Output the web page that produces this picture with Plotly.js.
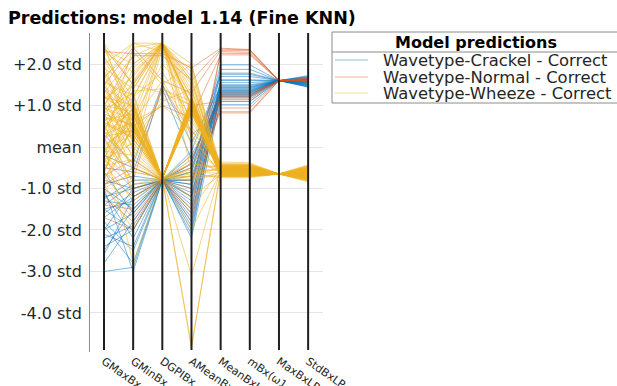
<!DOCTYPE html>
<html><head><meta charset="utf-8">
<script src="https://cdn.plot.ly/plotly-3.0.1.min.js"></script>
<style>html,body{margin:0;padding:0;background:#fff;}</style>
</head><body>
<div id="chart" style="width:617px;height:386px"></div>
<script>
// ---------- data (values in standard deviations from the mean) ----------
const categories = ['GMaxBx','GMinBx','DGPIBx','AMeanBx','MeanBxLP','mBx(\u03c91,\u03c92)','MaxBxLP','StdBxLP'];
const yTickValues = [-4, -3, -2, -1, 0, 1, 2];
const yTickLabels = ['-4.0 std','-3.0 std','-2.0 std','-1.0 std','mean','+1.0 std','+2.0 std'];
const classNames = ['Wavetype-Crackel - Correct','Wavetype-Normal - Correct','Wavetype-Wheeze - Correct'];
const legendTitle = 'Model predictions';
const chartTitle = 'Predictions: model 1.14 (Fine KNN)';

const crackelRows = [
  [-1.2, -1.0, -0.8, -0.6, 1.98, 1.98, 1.6, 1.72],
  [-1.5, -1.3, -0.8, -0.9, 1.87, 1.87, 1.6, 1.68],
  [-2.0, -1.6, -0.75, -1.2, 1.78, 1.78, 1.6, 1.65],
  [-0.9, -0.7, -0.8, -0.4, 1.70, 1.70, 1.6, 1.62],
  [-2.6, -1.2, -0.8, -1.5, 1.62, 1.62, 1.6, 1.58],
  [-3.0, -2.9, -0.78, -1.8, 1.55, 1.55, 1.6, 1.55],
  [-1.8, -2.5, -0.8, -0.8, 1.48, 1.48, 1.6, 1.52],
  [-1.4, -0.9, -0.82, -2.1, 1.42, 1.42, 1.6, 1.50],
  [-2.2, -1.9, -0.8, -1.0, 1.38, 1.38, 1.6, 1.47],
  [-1.0, -1.5, -0.76, -0.5, 1.35, 1.35, 1.6, 1.45],
  [-2.4, -2.0, -0.8, -1.3, 1.32, 1.32, 1.6, 1.55],
  [-1.6, -1.1, -0.8, -0.7, 1.28, 1.28, 1.6, 1.60],
  [-0.5, -0.6, 1.4, -0.3, 1.25, 1.25, 1.6, 1.63],
  [-1.9, -2.8, -0.8, -1.6, 1.22, 1.22, 1.6, 1.57],
  [-1.3, -1.4, -0.8, -1.1, 1.20, 1.20, 1.6, 1.53],
  [-2.8, -1.8, -0.78, -2.2, 1.15, 1.15, 1.6, 1.49],
  [-0.8, -1.0, -0.8, -0.2, 1.10, 1.10, 1.6, 1.66],
  [-1.1, -2.2, -0.8, -1.4, 1.02, 1.02, 1.6, 1.44],
  [0.3, -0.4, 1.5, 0.1, 1.45, 1.45, 1.6, 1.70],
  [-1.7, -1.2, -0.8, -0.9, 1.40, 1.40, 1.6, 1.56],
  [-2.1, -2.4, -0.79, -1.9, 1.30, 1.30, 1.6, 1.51],
  [-1.25, -0.8, -0.8, -0.6, 1.36, 1.36, 1.6, 1.61],
  [-0.6, -1.6, -0.8, -1.2, 1.44, 1.44, 1.6, 1.59],
  [-2.5, -1.5, -0.8, -0.4, 1.50, 1.50, 1.6, 1.64],
  [-1.0, -3.0, -0.8, -1.7, 1.60, 1.60, 1.6, 1.48],
  [-0.2, -0.5, -0.8, -0.1, 1.75, 1.75, 1.6, 1.69],
  [-1.5, -2.0, -0.8, -2.0, 1.33, 1.33, 1.6, 1.46],
  [-2.0, -1.0, -0.81, -0.8, 1.26, 1.26, 1.6, 1.54]
];

const normalRows = [
  [2.3, 2.25, 2.25, 1.9, 2.38, 2.35, 1.6, 1.62],
  [1.5, 2.4, 1.6, 1.3, 2.33, 2.32, 1.6, 1.65],
  [-0.6, -1.2, -0.8, -1.5, 2.30, 2.28, 1.6, 1.60],
  [-1.2, -1.8, -0.8, -1.0, 2.26, 2.25, 1.6, 1.58],
  [0.8, 0.5, 1.0, 0.7, 2.22, 2.22, 1.6, 1.64],
  [-1.7, -2.0, -0.8, -1.8, 1.25, 1.25, 1.6, 1.57],
  [-0.9, -0.5, -0.8, -0.5, 1.18, 1.18, 1.6, 1.63],
  [2.4, 1.5, 2.5, 1.0, 1.10, 1.10, 1.6, 1.66],
  [-0.3, -1.0, -0.8, -1.2, 0.94, 0.94, 1.6, 1.59],
  [-1.4, -1.5, -0.78, -0.8, 0.85, 0.85, 1.6, 1.61],
  [0.2, -0.8, 1.5, 0.3, 0.82, 0.82, 1.6, 1.60],
  [-1.0, -1.7, -0.8, -1.6, 1.22, 1.22, 1.6, 1.62],
  [1.0, 2.2, 2.2, 1.6, 2.36, 2.34, 1.6, 1.64],
  [-0.7, -0.3, -0.8, -0.3, 1.30, 1.30, 1.6, 1.61]
];

const wheezeRows = [
  [2.4, 0.8, -0.75, 1.0, -0.50, -0.50, -0.65, -0.55],
  [1.8, 0.5, -0.75, 1.1, -0.60, -0.60, -0.65, -0.70],
  [1.2, 1.0, -0.74, 0.9, -0.45, -0.45, -0.65, -0.50],
  [0.6, 0.3, -0.75, 1.0, -0.70, -0.70, -0.65, -0.80],
  [0.0, 0.6, -0.76, 1.2, -0.55, -0.55, -0.65, -0.60],
  [-0.4, 0.4, -0.75, 0.95, -0.65, -0.65, -0.65, -0.75],
  [0.9, 1.3, -0.75, 1.05, -0.40, -0.42, -0.65, -0.45],
  [1.5, 0.2, -0.75, 0.85, -0.58, -0.58, -0.65, -0.65],
  [0.3, 0.9, -0.75, 1.0, -0.62, -0.62, -0.65, -0.72],
  [-0.8, 0.5, -0.75, 1.1, -0.48, -0.48, -0.65, -0.52],
  [2.0, 2.5, 2.5, 1.8, -0.52, -0.52, -0.65, -0.58],
  [1.0, 2.0, 2.5, 1.4, -0.66, -0.66, -0.65, -0.78],
  [0.4, 1.6, 2.5, 0.5, -0.44, -0.44, -0.65, -0.48],
  [-0.3, 1.2, 2.45, 1.0, -0.72, -0.72, -0.65, -0.82],
  [1.4, 0.7, 2.5, 0.0, -0.56, -0.56, -0.65, -0.62],
  [2.3, 1.8, 2.5, 2.0, -0.60, -0.60, -0.65, -0.68],
  [0.7, -0.2, 2.4, 1.2, -0.50, -0.50, -0.65, -0.56],
  [-0.6, 0.9, 2.5, -0.6, -0.64, -0.64, -0.65, -0.74],
  [1.1, 0.0, -0.75, -0.6, -0.53, -0.53, -0.65, -0.57],
  [0.5, -0.5, -0.75, -0.7, -0.68, -0.68, -0.65, -0.77],
  [-0.2, -0.8, -0.75, -0.5, -0.46, -0.46, -0.65, -0.50],
  [1.6, 1.1, -0.76, -0.8, -0.61, -0.61, -0.65, -0.66],
  [0.8, 1.5, 1.3, 1.0, -0.57, -0.57, -0.65, -0.63],
  [-0.5, 0.6, 1.0, 0.4, -0.49, -0.49, -0.65, -0.54],
  [1.3, -0.3, 1.4, 1.1, -0.70, -0.70, -0.65, -0.79],
  [0.2, -1.0, -0.75, -4.85, -0.55, -0.55, -0.65, -0.60],
  [-0.9, -2.0, -0.75, -4.8, -0.60, -0.60, -0.65, -0.66],
  [0.6, 0.2, -0.75, -3.1, -0.52, -0.52, -0.65, -0.58],
  [2.5, 0.4, -0.75, 0.9, -0.42, -0.42, -0.65, -0.46],
  [1.9, 1.4, 2.5, 1.0, -0.63, -0.63, -0.65, -0.71],
  [-0.1, 0.8, -0.75, 1.0, -0.59, -0.59, -0.65, -0.67],
  [0.95, 0.45, -0.75, 1.15, -0.51, -0.51, -0.65, -0.55],
  [-0.7, -1.5, -0.75, -1.2, -0.67, -0.67, -0.65, -0.76],
  [0.1, -2.8, -0.75, -0.4, -0.54, -0.54, -0.65, -0.59],
  [1.7, 2.3, 1.5, 2.0, -0.47, -0.47, -0.65, -0.51],
  [-0.3, 0.1, 2.5, 1.3, -0.58, -0.58, -0.65, -0.64],
  [0.45, 1.1, -0.75, 0.8, -0.69, -0.69, -0.65, -0.81],
  [1.25, 0.65, -0.75, 1.05, -0.36, -0.38, -0.65, -0.43],
  [-0.45, -0.3, -0.75, -0.65, -0.74, -0.74, -0.65, -0.84],
  [0.75, 0.35, 2.5, 0.9, -0.62, -0.62, -0.65, -0.69],
  [2.2, 1.0, -0.75, 1.0, -0.56, -0.56, -0.65, -0.61],
  [-1.0, 0.55, -0.75, 1.1, -0.53, -0.53, -0.65, -0.59],
  [0.35, 1.9, 2.5, 1.6, -0.50, -0.50, -0.65, -0.53],
  [1.05, -0.6, -0.75, -0.2, -0.64, -0.64, -0.65, -0.73],
  [-0.15, 0.75, -0.75, 0.95, -0.57, -0.57, -0.65, -0.62],
  [0.55, 0.25, 1.2, 0.6, -0.45, -0.45, -0.65, -0.49],
  [1.45, 0.95, -0.75, 1.2, -0.66, -0.66, -0.65, -0.75],
  [-0.65, 1.4, 2.5, 0.2, -0.60, -0.60, -0.65, -0.67],
  [0.85, -1.2, -0.75, -1.5, -0.52, -0.52, -0.65, -0.57],
  [0.05, 0.5, -0.75, 1.0, -0.71, -0.71, -0.65, -0.80],
  [2.5, 1.5, 2.5, 1.0, -0.41, -0.41, -0.65, -0.47],
  [2.1, 0.9, -0.75, 1.0, -0.58, -0.58, -0.65, -0.63],
  [1.65, 2.5, 2.3, 1.9, -0.54, -0.54, -0.65, -0.60],
  [1.35, 0.5, -0.75, 0.95, -0.63, -0.63, -0.65, -0.70],
  [1.15, 1.7, 2.5, 1.5, -0.49, -0.49, -0.65, -0.53],
  [0.95, 0.65, -0.75, 1.0, -0.66, -0.66, -0.65, -0.74],
  [0.65, 0.8, -0.75, 1.05, -0.55, -0.55, -0.65, -0.61],
  [0.5, 1.2, 1.8, 0.7, -0.60, -0.60, -0.65, -0.68],
  [0.25, 0.4, -0.75, 1.0, -0.47, -0.47, -0.65, -0.52],
  [0.15, 0.95, -0.75, 1.1, -0.69, -0.69, -0.65, -0.78],
  [-0.05, 0.3, -0.75, 0.9, -0.52, -0.52, -0.65, -0.57],
  [-0.25, 0.7, 2.0, 1.2, -0.62, -0.62, -0.65, -0.71],
  [-0.55, 0.45, -0.75, 1.0, -0.57, -0.57, -0.65, -0.64],
  [-0.75, 0.2, -0.75, -0.7, -0.50, -0.50, -0.65, -0.55],
  [-1.0, -0.6, -0.75, 0.9, -0.65, -0.65, -0.65, -0.73],
  [1.85, 0.6, 1.6, 0.4, -0.44, -0.44, -0.65, -0.49],
  [2.35, 2.0, 2.5, 1.2, -0.59, -0.59, -0.65, -0.66],
  [1.55, 1.25, -0.75, 1.15, -0.53, -0.53, -0.65, -0.58],
  [0.85, 1.75, 2.5, 0.3, -0.67, -0.67, -0.65, -0.76],
  [0.4, -0.4, -0.75, -0.55, -0.56, -0.56, -0.65, -0.62],
  [0.7, 0.55, -0.75, 1.0, -0.61, -0.61, -0.65, -0.69],
  [1.0, 0.85, -0.75, 1.05, -0.48, -0.48, -0.65, -0.53],
  [0.2, 1.05, -0.75, 0.95, -0.64, -0.64, -0.65, -0.72],
  [-0.35, 0.6, -0.75, 1.1, -0.58, -0.58, -0.65, -0.65],
  [1.75, 0.3, -0.75, 0.85, -0.51, -0.51, -0.65, -0.56],
  [2.15, 1.2, 2.5, 1.6, -0.62, -0.62, -0.65, -0.70],
  [1.3, 2.2, 2.5, 0.8, -0.55, -0.55, -0.65, -0.60],
  [0.55, -0.9, -0.75, -0.75, -0.70, -0.70, -0.65, -0.79],
  [-0.2, 1.55, 2.5, 1.0, -0.46, -0.46, -0.65, -0.51],
  [0.9, 0.15, 1.1, 1.4, -0.57, -0.57, -0.65, -0.63],
  [1.2, 0.75, -0.75, 1.0, -0.66, -0.66, -0.65, -0.75],
  [0.3, 0.6, -0.75, 1.05, -0.53, -0.53, -0.65, -0.58],
  [-0.6, 1.0, -0.75, 0.9, -0.60, -0.60, -0.65, -0.67],
  [1.6, -0.1, -0.75, -0.4, -0.49, -0.49, -0.65, -0.54],
  [0.1, 2.4, 2.5, 1.7, -0.63, -0.63, -0.65, -0.71],
  [2.0, 0.1, -0.75, 1.1, -0.56, -0.56, -0.65, -0.61],
  [-0.4, -1.3, -0.75, -2.0, -0.59, -0.59, -0.65, -0.66],
  [0.6, 1.35, 1.4, 1.0, -0.52, -0.52, -0.65, -0.57],
  [1.4, 0.45, -0.75, 1.0, -0.68, -0.68, -0.65, -0.77],
  [-0.1, -0.2, -0.75, 0.8, -0.54, -0.54, -0.65, -0.60]
];

// ---------- styling ----------
const classRows = [crackelRows, normalRows, wheezeRows];
const classRGB = ['0,114,189', '217,83,25', '237,177,32'];
const classAlpha = [0.5, 0.45, 0.55];
const FONT = 'DejaVu Sans, Verdana, sans-serif';
const TXT = '#262626';

const W = 617, H = 386;
const M = {l: 90, r: 294, t: 33, b: 34};
const plotW = W - M.l - M.r, plotH = H - M.t - M.b;
const px = v => (v - M.l) / plotW;        // pixel x -> paper x
const py = v => (H - M.b - v) / plotH;    // pixel y -> paper y

const traces = [];
classRows.forEach((rows, ci) => {
  rows.forEach(row => {
    traces.push({
      type: 'scatter', mode: 'lines',
      x: categories, y: row,
      line: {color: 'rgba(' + classRGB[ci] + ',' + classAlpha[ci] + ')', width: 1},
      name: classNames[ci], legendgroup: classNames[ci],
      showlegend: false, hoverinfo: 'skip'
    });
  });
});

const shapes = [];
categories.forEach((c, i) => {
  shapes.push({type: 'line', xref: 'x', yref: 'paper', x0: i, x1: i, y0: 0.006, y1: 1,
    line: {color: '#1f1f1f', width: 2}, layer: 'above'});
});

// legend box (drawn manually to keep the compact MATLAB spacing)
const LB = {x0: 332, x1: 660, y0: 32, y1: 103, sep: 52};
shapes.push({type: 'rect', xref: 'paper', yref: 'paper', x0: px(LB.x0), x1: px(LB.x1), y0: py(LB.y1), y1: py(LB.y0),
  line: {color: '#8c8c8c', width: 1}, fillcolor: '#ffffff', layer: 'above'});
shapes.push({type: 'line', xref: 'paper', yref: 'paper', x0: px(LB.x0), x1: px(LB.x1), y0: py(LB.sep), y1: py(LB.sep),
  line: {color: '#8c8c8c', width: 1}, layer: 'above'});
const rowY = [60, 77, 93];
const annotations = [];
annotations.push({xref: 'paper', yref: 'paper', x: px(476), y: py(42), text: '<b>' + legendTitle + '</b>',
  showarrow: false, xanchor: 'center', yanchor: 'middle', font: {family: FONT, size: 16, color: '#000'}});
classNames.forEach((n, ci) => {
  shapes.push({type: 'line', xref: 'paper', yref: 'paper', x0: px(335), x1: px(368), y0: py(rowY[ci]), y1: py(rowY[ci]),
    line: {color: 'rgba(' + classRGB[ci] + ',0.45)', width: 1.2}, layer: 'above'});
  annotations.push({xref: 'paper', yref: 'paper', x: px(381), y: py(rowY[ci]), text: n,
    showarrow: false, xanchor: 'left', yanchor: 'middle', font: {family: FONT, size: 16.4, color: TXT}});
});

const layout = {
  width: W, height: H,
  margin: M,
  paper_bgcolor: '#ffffff', plot_bgcolor: '#ffffff',
  showlegend: false,
  font: {family: FONT, color: TXT},
  title: {text: '<b>' + chartTitle + '</b>', x: 8 / W, xanchor: 'left', xref: 'container',
    y: 1 - 18 / H, yanchor: 'middle', yref: 'container', font: {family: FONT, size: 17.5, color: '#000'}},
  xaxis: {type: 'category', range: [-0.48, 7.51], showgrid: false, zeroline: false, showline: false,
    ticks: '', tickangle: 35, tickfont: {family: FONT, size: 11, color: TXT}, fixedrange: true},
  yaxis: {range: [-4.94, 2.747], tickvals: yTickValues, ticktext: yTickLabels,
    showgrid: true, gridcolor: '#e5e5e5', gridwidth: 1, zeroline: false,
    showline: true, linecolor: '#8c8c8c', linewidth: 1, ticks: '', ticklabelstandoff: 4,
    tickfont: {family: FONT, size: 16, color: TXT}, fixedrange: true},
  shapes: shapes,
  annotations: annotations
};

Plotly.newPlot('chart', traces, layout, {staticPlot: true, displayModeBar: false});
</script>
</body></html>
